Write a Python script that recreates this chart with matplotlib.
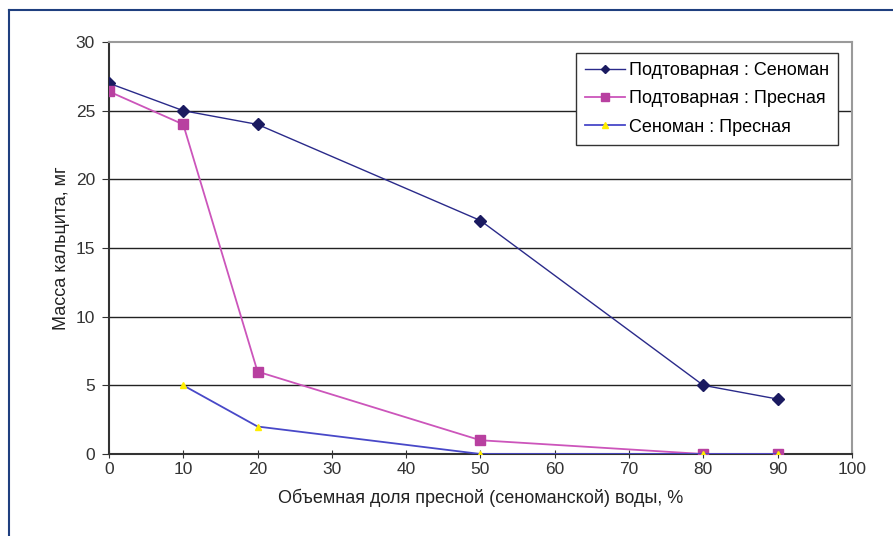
import matplotlib
matplotlib.use('Agg')
from matplotlib import pyplot as plt
from matplotlib.lines import Line2D

plt.rcParams['font.family'] = ['Liberation Sans', 'DejaVu Sans']

# volume fraction of fresh (cenomanian) water, %
x_vals = [0, 10, 20, 50, 80, 90]
podt_senoman = [27, 25, 24, 17, 5, 4]
podt_presnaya = [26.4, 24, 6, 1, 0, 0]
x_sen = [10, 20, 50, 80, 90]
senoman_presnaya = [5, 2, 0, 0, 0]

fig = plt.figure(figsize=(8.93, 5.36), dpi=100)
ax = fig.add_axes([0.122, 0.153, 0.832, 0.7686])

# outer blue frame (left and top only)
fig.add_artist(Line2D([0.0101, 0.0101], [0, 0.9813], color='#1f3f7f', lw=1.5, transform=fig.transFigure))
fig.add_artist(Line2D([0.0101, 1.0], [0.9813, 0.9813], color='#1f3f7f', lw=1.5, transform=fig.transFigure))

for yv in [5, 10, 15, 20, 25]:
    ax.axhline(yv, color='#222222', lw=1.0, zorder=1)

ax.plot(x_vals, podt_senoman, color='#2a2a8a', lw=1.0, marker='D', ms=6,
        mfc='#1a1a60', mec='#1a1a60', label='Подтоварная : Сеноман', zorder=3)
ax.plot(x_vals, podt_presnaya, color='#cc55bb', lw=1.3, marker='s', ms=7,
        mfc='#b840a0', mec='#b840a0', label='Подтоварная : Пресная', zorder=3)
ax.plot(x_sen, senoman_presnaya, color='#4848c8', lw=1.3, marker='^', ms=5,
        mfc='#ffee00', mec='#ffee00', label='Сеноман : Пресная', zorder=4)

ax.set_xlim(0, 100)
ax.set_ylim(0, 30)
ax.set_xticks(range(0, 101, 10))
ax.set_yticks(range(0, 31, 5))
ax.tick_params(axis='x', direction='inout', length=6, labelsize=12.5, colors='#333333', pad=3)
ax.tick_params(axis='y', direction='out', length=5, labelsize=12.5, colors='#333333', pad=5)

for s in ['top', 'right']:
    ax.spines[s].set_color('#9a9a9a')
    ax.spines[s].set_linewidth(1.5)
for s in ['left', 'bottom']:
    ax.spines[s].set_color('#333333')
    ax.spines[s].set_linewidth(1.5)

ax.set_xlabel('Объемная доля пресной (сеноманской) воды, %', fontsize=13, color='#222222', labelpad=8)
ax.set_ylabel('Масса кальцита, мг', fontsize=13, color='#222222', labelpad=4)

leg = ax.legend(loc='upper right', bbox_to_anchor=(0.981, 0.973), fontsize=13,
                frameon=True, fancybox=False, edgecolor='#333333', framealpha=1,
                handlelength=2.2, handletextpad=0.2, borderpad=0.5, labelspacing=0.62,
                borderaxespad=0, markerscale=0.75)
leg.get_frame().set_linewidth(1.0)

fig.savefig('out.png', dpi=100)
plt.close(fig)
